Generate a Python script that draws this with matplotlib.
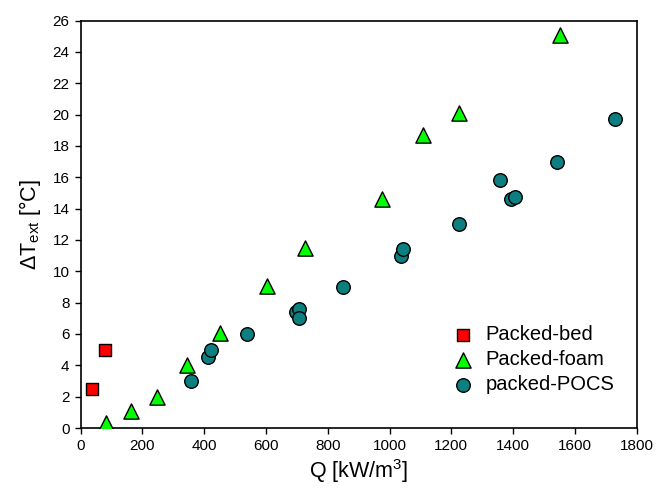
import matplotlib.pyplot as plt

plt.rcParams['font.family'] = ['Liberation Sans', 'DejaVu Sans']
plt.rcParams['mathtext.fontset'] = 'custom'
plt.rcParams['mathtext.rm'] = 'Liberation Sans'

# datos por tipo de relleno
bed_q = [38, 77]
bed_dt = [2.5, 5.0]

foam_q = [81, 162, 246, 343, 451, 602, 726, 976, 1107, 1224, 1553]
foam_dt = [0.3, 1.1, 2.0, 4.05, 6.05, 9.05, 11.5, 14.6, 18.7, 20.1, 25.1]

pocs_q = [356, 413, 422, 539, 697, 706, 708, 848, 1037, 1042, 1226, 1357, 1392, 1406, 1541, 1729]
pocs_dt = [3.0, 4.5, 5.0, 6.0, 7.4, 7.6, 7.0, 9.0, 11.0, 11.4, 13.0, 15.8, 14.6, 14.75, 17.0, 19.75]

fig = plt.figure(figsize=(6.59, 4.90), dpi=100)
ax = fig.add_axes([0.1225, 0.1265, 0.8435, 0.8315])

ax.scatter(bed_q, bed_dt, marker='s', s=85, color='#ff0000', edgecolors='black',
           linewidths=1.0, label='Packed-bed', zorder=3)
ax.scatter(foam_q, foam_dt, marker='^', s=120, color='#00ff00', edgecolors='black',
           linewidths=1.0, label='Packed-foam', zorder=3)
ax.scatter(pocs_q, pocs_dt, marker='o', s=95, color='#0d7f80', edgecolors='black',
           linewidths=1.0, label='packed-POCS', zorder=3)

ax.set_xlim(0, 1800)
ax.set_ylim(0, 26)
ax.set_xticks(range(0, 1801, 200))
ax.set_yticks(range(0, 27, 2))
ax.tick_params(direction='out', length=4, width=1, labelsize=11, colors='black', pad=4)
for sp in ax.spines.values():
    sp.set_linewidth(1.2)

ax.set_xlabel('Q [kW/m$^3$]', fontsize=15.5, labelpad=3)
ax.set_ylabel('ΔT$_{\\mathrm{ext}}$ [°C]', fontsize=15.5, labelpad=7)

ax.legend(loc='upper left', bbox_to_anchor=(0.645, 0.272), frameon=False,
          fontsize=14.5, handletextpad=0.3, labelspacing=0.3, borderaxespad=0,
          handlelength=1.6)

fig.savefig('out.png', dpi=100)
